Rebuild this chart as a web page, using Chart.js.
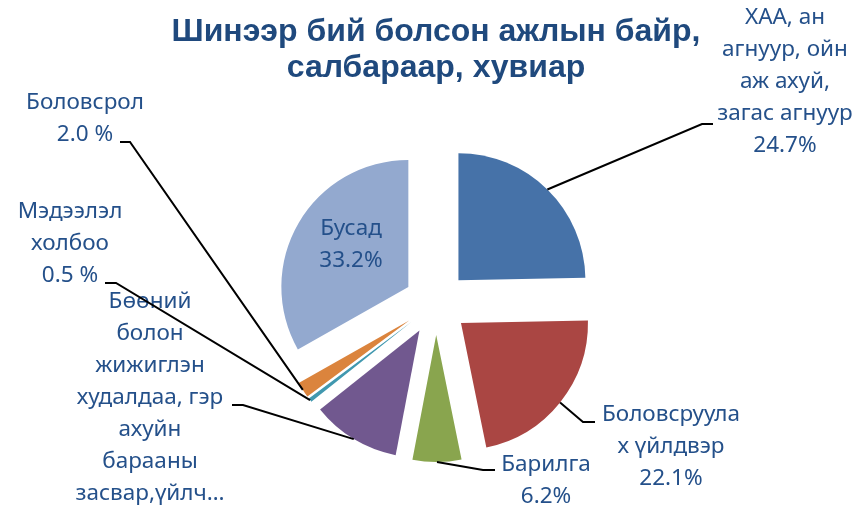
<!DOCTYPE html>
<html lang="mn">
<head>
  <meta charset="UTF-8" />
  <title>Шинээр бий болсон ажлын байр</title>
  <style>
    html, body { margin: 0; padding: 0; background: #fff; }
    #wrap { width: 858px; height: 506px; }
  </style>
</head>
<body>
  <div id="wrap"><canvas id="pie"></canvas></div>
  <script src="https://cdn.jsdelivr.net/npm/chart.js@4.4.1/dist/chart.umd.min.js"></script>
  <script>
    // data (clockwise from 12 o'clock)
    const sectors = [
      "ХАА, ан агнуур, ойн аж ахуй, загас агнуур",
      "Боловсруулах үйлдвэр",
      "Барилга",
      "Бөөний болон жижиглэн худалдаа, гэр ахуйн барааны засвар,үйлчилгээ",
      "Мэдээлэл холбоо",
      "Боловсрол",
      "Бусад"
    ];
    const shares = [24.7, 22.1, 6.2, 11.3, 0.5, 2.0, 33.2];
    // label text as wrapped in the picture (percent line added from shares)
    const labelLines = [
      ["ХАА, ан", "агнуур, ойн", "аж ахуй,", "загас агнуур"],
      ["Боловсруула", "х үйлдвэр"],
      ["Барилга"],
      ["Бөөний", "болон", "жижиглэн", "худалдаа, гэр", "ахуйн", "барааны", "засвар,үйлч…"],
      ["Мэдээлэл", "холбоо"],
      ["Боловсрол"],
      ["Бусад"]
    ];
    const showPct = [true, true, true, false, true, true, true];
    const pctSuffix = ["%", "%", "%", "%", " %", " %", "%"];

    const colors = ["#4672A8", "#AA4643", "#89A54E", "#71588F", "#4198AF", "#DB843D", "#93A9CF"];
    const textColor = "#24508A";
    const GAP = 32;      // explode distance
    const LINE_H = 32;

    // label placement: text centre of first line, leader elbow and tail
    const labelLayout = [
      { x: 785, y: 18,  elbow: [702, 124], tail: [713, 124] },
      { x: 671, y: 415, elbow: [583, 422], tail: [595, 422] },
      { x: 546, y: 465, elbow: [483, 470], tail: [495, 470] },
      { x: 150, y: 302, elbow: [243, 405], tail: [232, 405] },
      { x: 70,  y: 212, elbow: [116, 283], tail: [105, 283] },
      { x: 85,  y: 103, elbow: [130, 142], tail: [120, 142] },
      { x: 351, y: 229, elbow: null, tail: null }
    ];

    // pull every slice out along its middle angle
    const explode = {
      id: "explode",
      beforeDatasetDraw(chart, args) {
        const ctx = chart.ctx;
        args.meta.data.forEach(arc => {
          const mid = (arc.startAngle + arc.endAngle) / 2;
          ctx.save();
          ctx.translate(Math.cos(mid) * GAP, Math.sin(mid) * GAP);
          arc.draw(ctx);
          ctx.restore();
        });
        return false;
      }
    };

    const pieLabels = {
      id: "pieLabels",
      afterDatasetsDraw(chart) {
        const ctx = chart.ctx;
        const arcs = chart.getDatasetMeta(0).data;
        ctx.save();
        arcs.forEach((arc, i) => {
          const lay = labelLayout[i];
          if (lay.elbow) {
            const mid = (arc.startAngle + arc.endAngle) / 2;
            const r = arc.outerRadius + GAP;
            ctx.beginPath();
            ctx.moveTo(arc.x + Math.cos(mid) * r, arc.y + Math.sin(mid) * r);
            ctx.lineTo(lay.elbow[0], lay.elbow[1]);
            ctx.lineTo(lay.tail[0], lay.tail[1]);
            ctx.strokeStyle = "#000";
            ctx.lineWidth = 2;
            ctx.stroke();
          }
          const lines = labelLines[i].slice();
          if (showPct[i]) lines.push(shares[i].toFixed(1) + pctSuffix[i]);
          ctx.font = "22.5px 'Noto Sans'";
          ctx.fillStyle = textColor;
          ctx.textAlign = "center";
          ctx.textBaseline = "middle";
          lines.forEach((t, k) => ctx.fillText(t, lay.x, lay.y + k * LINE_H));
        });
        ctx.restore();
      }
    };

    new Chart(document.getElementById("pie"), {
      type: "pie",
      data: {
        labels: sectors,
        datasets: [{
          data: shares,
          backgroundColor: colors,
          borderWidth: 0
        }]
      },
      options: {
        responsive: true,
        maintainAspectRatio: false,
        animation: false,
        radius: 127,
        layout: { padding: { left: 14, right: 0, top: 0, bottom: 0 } },
        plugins: {
          legend: { display: false },
          tooltip: { enabled: false },
          title: {
            display: true,
            text: ["Шинээр бий болсон ажлын байр,", "салбараар, хувиар"],
            color: "#1F497D",
            font: { family: "'Liberation Sans', Arial, sans-serif", size: 32, weight: "bold", lineHeight: 1.125 },
            padding: { top: 14, bottom: 14 }
          }
        }
      },
      plugins: [explode, pieLabels]
    });
  </script>
</body>
</html>
